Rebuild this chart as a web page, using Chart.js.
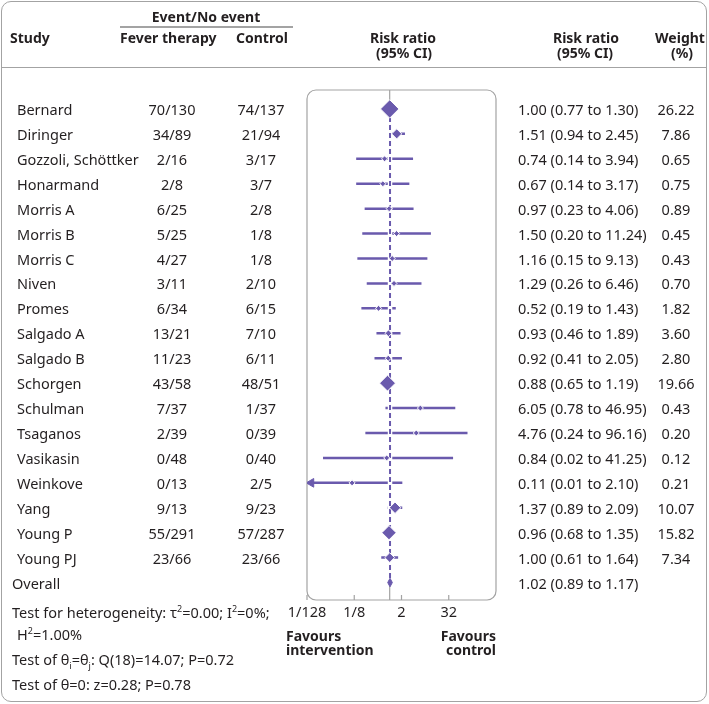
<!DOCTYPE html>
<html>
<head>
<meta charset="utf-8">
<script src="https://cdn.jsdelivr.net/npm/chart.js@4.4.1/dist/chart.umd.min.js"></script>
<style>
  body { margin: 0; background: #fff; }
  #wrap { position: relative; width: 709px; height: 704px; font-family: "Noto Sans", sans-serif; font-size: 14.5px; color: #231f20; }
  #frame { position: absolute; left: 1px; top: 1px; width: 706px; height: 701px; box-sizing: border-box; border: 1.5px solid #a3a3a3; border-radius: 10px; }
  #chart { position: absolute; left: 0; top: 0; }
  .t { position: absolute; white-space: nowrap; line-height: 20px; }
  .b { font-weight: bold; font-size: 14px; }
  .rule { position: absolute; background: #a3a3a3; }
  sub, sup { font-size: 9px; line-height: 0; }
</style>
</head>
<body>
<div id="wrap">
  <div id="frame"></div>
  <canvas id="chart" width="709" height="704"></canvas>
</div>
<script>
// Données
const studies = ["Bernard", "Diringer", "Gozzoli, Schöttker", "Honarmand", "Morris A", "Morris B", "Morris C",
  "Niven", "Promes", "Salgado A", "Salgado B", "Schorgen", "Schulman", "Tsaganos", "Vasikasin", "Weinkove",
  "Yang", "Young P", "Young PJ"];
const feverEvents = ["70/130", "34/89", "2/16", "2/8", "6/25", "5/25", "4/27", "3/11", "6/34", "13/21", "11/23",
  "43/58", "7/37", "2/39", "0/48", "0/13", "9/13", "55/291", "23/66"];
const controlEvents = ["74/137", "21/94", "3/17", "3/7", "2/8", "1/8", "1/8", "2/10", "6/15", "7/10", "6/11",
  "48/51", "1/37", "0/39", "0/40", "2/5", "9/23", "57/287", "23/66"];
const riskRatio = [1.00, 1.51, 0.74, 0.67, 0.97, 1.50, 1.16, 1.29, 0.52, 0.93, 0.92, 0.88, 6.05, 4.76, 0.84, 0.11, 1.37, 0.96, 1.00];
const ciLow = [0.77, 0.94, 0.14, 0.14, 0.23, 0.20, 0.15, 0.26, 0.19, 0.46, 0.41, 0.65, 0.78, 0.24, 0.02, 0.01, 0.89, 0.68, 0.61];
const ciHigh = [1.30, 2.45, 3.94, 3.17, 4.06, 11.24, 9.13, 6.46, 1.43, 1.89, 2.05, 1.19, 46.95, 96.16, 41.25, 2.10, 2.09, 1.35, 1.64];
const weights = [26.22, 7.86, 0.65, 0.75, 0.89, 0.45, 0.43, 0.70, 1.82, 3.60, 2.80, 19.66, 0.43, 0.20, 0.12, 0.21, 10.07, 15.82, 7.34];
const overallRR = 1.02;
const overallLow = 0.89;
const overallHigh = 1.17;
const arrowStudies = ["Weinkove"];
const tickValues = [1 / 128, 1 / 8, 2, 32];
const tickLabels = ["1/128", "1/8", "2", "32"];

const purple = "#6a5aad";
const grey = "#a3a3a3";
const ink = "#231f20";
const overallRow = studies.length;

Chart.defaults.font.family = '"Noto Sans", sans-serif';
Chart.defaults.font.size = 14.5;
Chart.defaults.color = ink;

// Segments des intervalles de confiance (coupés par des points vides)
const ciSegments = [];
studies.forEach((s, i) => {
  ciSegments.push({ x: ciLow[i], y: i }, { x: ciHigh[i], y: i }, { x: null, y: null });
});

const markers = studies.map((s, i) => ({ x: riskRatio[i], y: i }));
const markerSize = weights.map(w => Math.max(3, 1.8 * Math.sqrt(w)));
const arrows = studies.map((s, i) => arrowStudies.includes(s) ? { x: ciLow[i], y: i } : null).filter(p => p);

const dh = 0.17;
const overallDiamond = [
  { x: overallLow, y: overallRow }, { x: overallRR, y: overallRow - dh },
  { x: overallHigh, y: overallRow }, { x: overallRR, y: overallRow + dh }, { x: overallLow, y: overallRow }
];

const yMin = -0.76, yMax = overallRow + 0.7;

// Cadre arrondi et petites graduations vers l'intérieur
const boxPlugin = {
  id: 'box',
  beforeDatasetsDraw(chart) {
    const a = chart.chartArea, ctx = chart.ctx;
    ctx.save();
    ctx.strokeStyle = grey;
    ctx.lineWidth = 1.2;
    ctx.beginPath();
    ctx.roundRect(a.left, a.top, a.right - a.left, a.bottom - a.top, 9);
    ctx.stroke();
    const xs = chart.scales.x;
    ctx.beginPath();
    xs.ticks.forEach(t => {
      const px = xs.getPixelForValue(t.value);
      ctx.moveTo(px, a.bottom);
      ctx.lineTo(px, a.bottom - 5);
    });
    ctx.stroke();
    ctx.restore();
  }
};

const chart = new Chart(document.getElementById('chart'), {
  type: 'scatter',
  data: {
    datasets: [
      { data: arrows, pointStyle: 'triangle', rotation: -90, pointRadius: 5, backgroundColor: purple, borderColor: purple, order: 1 },
      { data: markers, pointStyle: 'rectRot', pointRadius: markerSize, backgroundColor: purple, borderColor: '#fff', borderWidth: 1, order: 2 },
      { data: overallDiamond, showLine: true, fill: 'shape', backgroundColor: purple, borderColor: purple, borderWidth: 1, pointRadius: 0, order: 2 },
      { data: [{ x: overallRR, y: 0 }, { x: overallRR, y: overallRow }], showLine: true, borderColor: purple, borderWidth: 2, borderDash: [5, 3], pointRadius: 0, order: 3 },
      { data: [{ x: overallRR, y: 0 }, { x: overallRR, y: overallRow }], showLine: true, borderColor: '#fff', borderWidth: 4.5, pointRadius: 0, order: 4 },
      { data: ciSegments, showLine: true, spanGaps: false, borderColor: purple, borderWidth: 2.5, pointRadius: 0, order: 5 },
      { data: [{ x: 1, y: yMin }, { x: 1, y: yMax }], showLine: true, borderColor: grey, borderWidth: 1.2, pointRadius: 0, order: 6 }
    ]
  },
  options: {
    responsive: false,
    animation: false,
    devicePixelRatio: 1,
    layout: { padding: { left: 307, right: 213, top: 90, bottom: 76 } },
    plugins: { legend: { display: false }, tooltip: { enabled: false } },
    scales: {
      x: {
        type: 'logarithmic',
        min: 1 / 128,
        max: 512,
        bounds: 'data',
        grid: { display: false, drawTicks: false },
        border: { display: false },
        afterBuildTicks: s => { s.ticks = tickValues.map(v => ({ value: v })); },
        afterFit: s => { s.height = 28; },
        ticks: {
          padding: 4,
          autoSkip: false,
          maxRotation: 0,
          callback: (v, i) => tickLabels[i]
        }
      },
      y: { type: 'linear', display: false, reverse: true, min: yMin, max: yMax }
    }
  },
  plugins: [boxPlugin]
});

// Texte du tableau
const wrap = document.getElementById('wrap');
function place(html, x, y, align, bold) {
  const d = document.createElement('div');
  d.className = 't' + (bold ? ' b' : '');
  d.innerHTML = html;
  d.style.top = (y - 10) + 'px';
  if (align === 'left') d.style.left = x + 'px';
  else if (align === 'right') d.style.right = (709 - x) + 'px';
  else { d.style.left = x + 'px'; d.style.transform = 'translateX(-50%)'; }
  wrap.appendChild(d);
}
function rule(x, y, w, h) {
  const d = document.createElement('div');
  d.className = 'rule';
  Object.assign(d.style, { left: x + 'px', top: y + 'px', width: w + 'px', height: h + 'px' });
  wrap.appendChild(d);
}

// En-tête
place('Event/No event', 206, 17, 'center', true);
rule(120, 26, 173, 2);
place('Study', 10, 38, 'left', true);
place('Fever therapy', 120, 38, 'left', true);
place('Control', 236, 38, 'left', true);
place('Risk ratio', 403, 38, 'center', true);
place('(95% CI)', 404, 53, 'center', true);
place('Risk ratio', 586, 38, 'center', true);
place('(95% CI)', 585, 53, 'center', true);
place('Weight', 680, 38, 'center', true);
place('(%)', 682, 53, 'center', true);
rule(1, 67, 706, 1);

const ys = chart.scales.y;
const f2 = v => v.toFixed(2);
studies.forEach((s, i) => {
  const y = ys.getPixelForValue(i);
  place(s, 17, y, 'left');
  place(feverEvents[i], 172, y, 'center');
  place(controlEvents[i], 261, y, 'center');
  place(f2(riskRatio[i]) + ' (' + f2(ciLow[i]) + ' to ' + f2(ciHigh[i]) + ')', 518, y, 'left');
  place(f2(weights[i]), 676, y, 'center');
});
const yo = ys.getPixelForValue(overallRow);
place('Overall', 12, yo, 'left');
place(f2(overallRR) + ' (' + f2(overallLow) + ' to ' + f2(overallHigh) + ')', 518, yo, 'left');

// Statistiques
place('Test for heterogeneity: τ<sup>2</sup>=0.00; I<sup>2</sup>=0%;', 12, 612, 'left');
place('H<sup>2</sup>=1.00%', 17, 634, 'left');
place('Test of θ<sub>i</sub>=θ<sub>j</sub>: Q(18)=14.07; P=0.72', 12, 659, 'left');
place('Test of θ=0: z=0.28; P=0.78', 12, 684, 'left');

// Légendes sous l'axe
const fav = (html, x, align) => {
  const d = document.createElement('div');
  d.className = 't b';
  d.innerHTML = html;
  Object.assign(d.style, { top: '629px', lineHeight: '14px', textAlign: align });
  if (align === 'left') d.style.left = x + 'px'; else d.style.right = (709 - x) + 'px';
  wrap.appendChild(d);
};
fav('Favours<br>intervention', 286, 'left');
fav('Favours<br>control', 496, 'right');
</script>
</body>
</html>
